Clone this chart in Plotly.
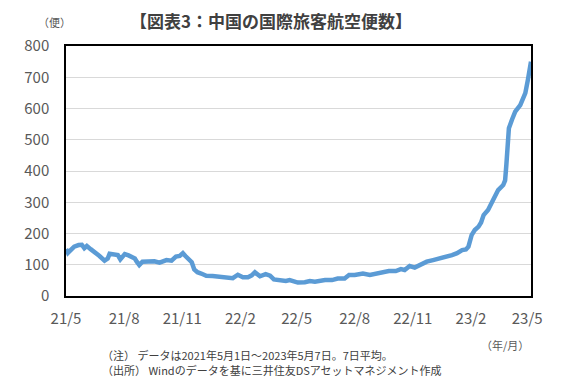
import plotly.graph_objects as go

dates = [
    "2021-05-01", "2021-05-04", "2021-05-10", "2021-05-14", "2021-05-21", "2021-05-26",
    "2021-05-30", "2021-06-03", "2021-06-09", "2021-06-15", "2021-06-23", "2021-07-01",
    "2021-07-06", "2021-07-09", "2021-07-15", "2021-07-22", "2021-07-26", "2021-08-02",
    "2021-08-08", "2021-08-13", "2021-08-18", "2021-08-21", "2021-08-25", "2021-08-30",
    "2021-09-05", "2021-09-12", "2021-09-18", "2021-09-26", "2021-10-03", "2021-10-07",
    "2021-10-15", "2021-10-22", "2021-10-28", "2021-11-02", "2021-11-06", "2021-11-11",
    "2021-11-16", "2021-11-20", "2021-11-25", "2021-12-01", "2021-12-09", "2021-12-19",
    "2021-12-30", "2022-01-10", "2022-01-20", "2022-01-28", "2022-02-05", "2022-02-13",
    "2022-02-19", "2022-02-24", "2022-03-04", "2022-03-13", "2022-03-20", "2022-03-26",
    "2022-04-04", "2022-04-14", "2022-04-20", "2022-04-26", "2022-05-03", "2022-05-14",
    "2022-05-22", "2022-05-30", "2022-06-07", "2022-06-15", "2022-06-26", "2022-07-05",
    "2022-07-16", "2022-07-23", "2022-08-01", "2022-08-14", "2022-08-25", "2022-09-05",
    "2022-09-14", "2022-09-24", "2022-10-05", "2022-10-13", "2022-10-19", "2022-10-27",
    "2022-11-04", "2022-11-12", "2022-11-23", "2022-12-03", "2022-12-14", "2022-12-25",
    "2023-01-02", "2023-01-10", "2023-01-18", "2023-01-24", "2023-01-28", "2023-02-02",
    "2023-02-07", "2023-02-13", "2023-02-17", "2023-02-21", "2023-02-28", "2023-03-08",
    "2023-03-16", "2023-03-24", "2023-03-27", "2023-03-29", "2023-03-30", "2023-04-02",
    "2023-04-07", "2023-04-12", "2023-04-20", "2023-04-28", "2023-05-02", "2023-05-05",
    "2023-05-07",
]
flights = [
    150, 138, 150, 158, 163, 164,
    153, 160, 150, 142, 128, 113,
    120, 135, 133, 131, 117, 134,
    130, 126, 120, 110, 99, 110,
    111, 110, 111, 107, 112, 115,
    113, 126, 128, 137, 128, 120,
    108, 85, 76, 72, 65, 64,
    62, 62, 57, 68, 60, 60,
    66, 76, 63, 70, 65, 53,
    50, 48, 51, 46, 43, 44,
    48, 46, 49, 51, 51, 56,
    56, 67, 67, 72, 67, 72,
    78, 80, 80, 86, 83, 96,
    91, 99, 110, 115, 120, 128,
    131, 137, 147, 149, 158, 195,
    211, 222, 235, 259, 275, 307,
    339, 355, 370, 420, 467, 537,
    565, 590, 611, 649, 691, 730,
    750,
]

tick_dates = ["2021-05-01", "2021-08-01", "2021-11-01", "2022-02-01", "2022-05-01",
              "2022-08-01", "2022-11-01", "2023-02-01", "2023-05-01"]
tick_labels = ["21/5", "21/8", "21/11", "22/2", "22/5", "22/8", "22/11", "23/2", "23/5"]
y_ticks = [0, 100, 200, 300, 400, 500, 600, 700, 800]

title_text = "【図表3：中国の国際旅客航空便数】"
unit_text = "（便）"
xunit_text = "（年/月）"
note_lines = ["（注） データは2021年5月1日～2023年5月7日。7日平均。",
              "（出所） Windのデータを基に三井住友DSアセットマネジメント作成"]

FONT = "Noto Sans CJK JP"
TXT = "#595959"

fig = go.Figure()
fig.add_trace(go.Scatter(
    x=dates, y=flights, mode="lines",
    line=dict(color="#5B9BD5", width=4.5),
    hoverinfo="x+y", showlegend=False,
))

fig.update_layout(
    width=556, height=379,
    margin=dict(l=58, r=33, t=38, b=91),
    paper_bgcolor="white", plot_bgcolor="white",
    font=dict(family=FONT, color=TXT, size=15),
    xaxis=dict(
        type="date", range=["2021-05-01", "2023-05-07"],
        tickmode="array", tickvals=tick_dates, ticktext=tick_labels,
        showgrid=False, showline=True, linecolor="black", linewidth=1.5,
        mirror=True, ticks="", tickfont=dict(size=15, color=TXT, family=FONT),
        ticklabelstandoff=8,
    ),
    yaxis=dict(
        range=[0, 800], tickmode="array", tickvals=y_ticks,
        showgrid=True, gridcolor="#D9D9D9", gridwidth=1,
        showline=True, linecolor="black", linewidth=1.5, mirror=True,
        ticks="", tickfont=dict(size=15, color=TXT, family=FONT),
        ticklabelstandoff=12, zeroline=False,
    ),
)

fig.add_annotation(text=title_text, xref="paper", yref="paper",
                   x=0.44, y=1.0, yshift=26, xanchor="center", yanchor="middle",
                   showarrow=False,
                   font=dict(size=17, color="#404040", family=FONT, weight="bold"))
fig.add_annotation(text=unit_text, xref="paper", yref="paper",
                   x=0, xshift=-12, y=1.0, yshift=24, xanchor="center", yanchor="middle",
                   showarrow=False, font=dict(size=11, color=TXT, family=FONT))
fig.add_annotation(text=xunit_text, xref="paper", yref="paper",
                   x=1.0, xshift=-26, y=0, yshift=-49, xanchor="center", yanchor="middle",
                   showarrow=False, font=dict(size=11, color=TXT, family=FONT))
for i, line in enumerate(note_lines):
    fig.add_annotation(text=line, xref="paper", yref="paper",
                       x=0, xshift=34, y=0, yshift=-59 - 15 * i,
                       xanchor="left", yanchor="middle",
                       align="left", showarrow=False,
                       font=dict(size=11, color="#404040", family=FONT))

fig.write_html("out.html")
